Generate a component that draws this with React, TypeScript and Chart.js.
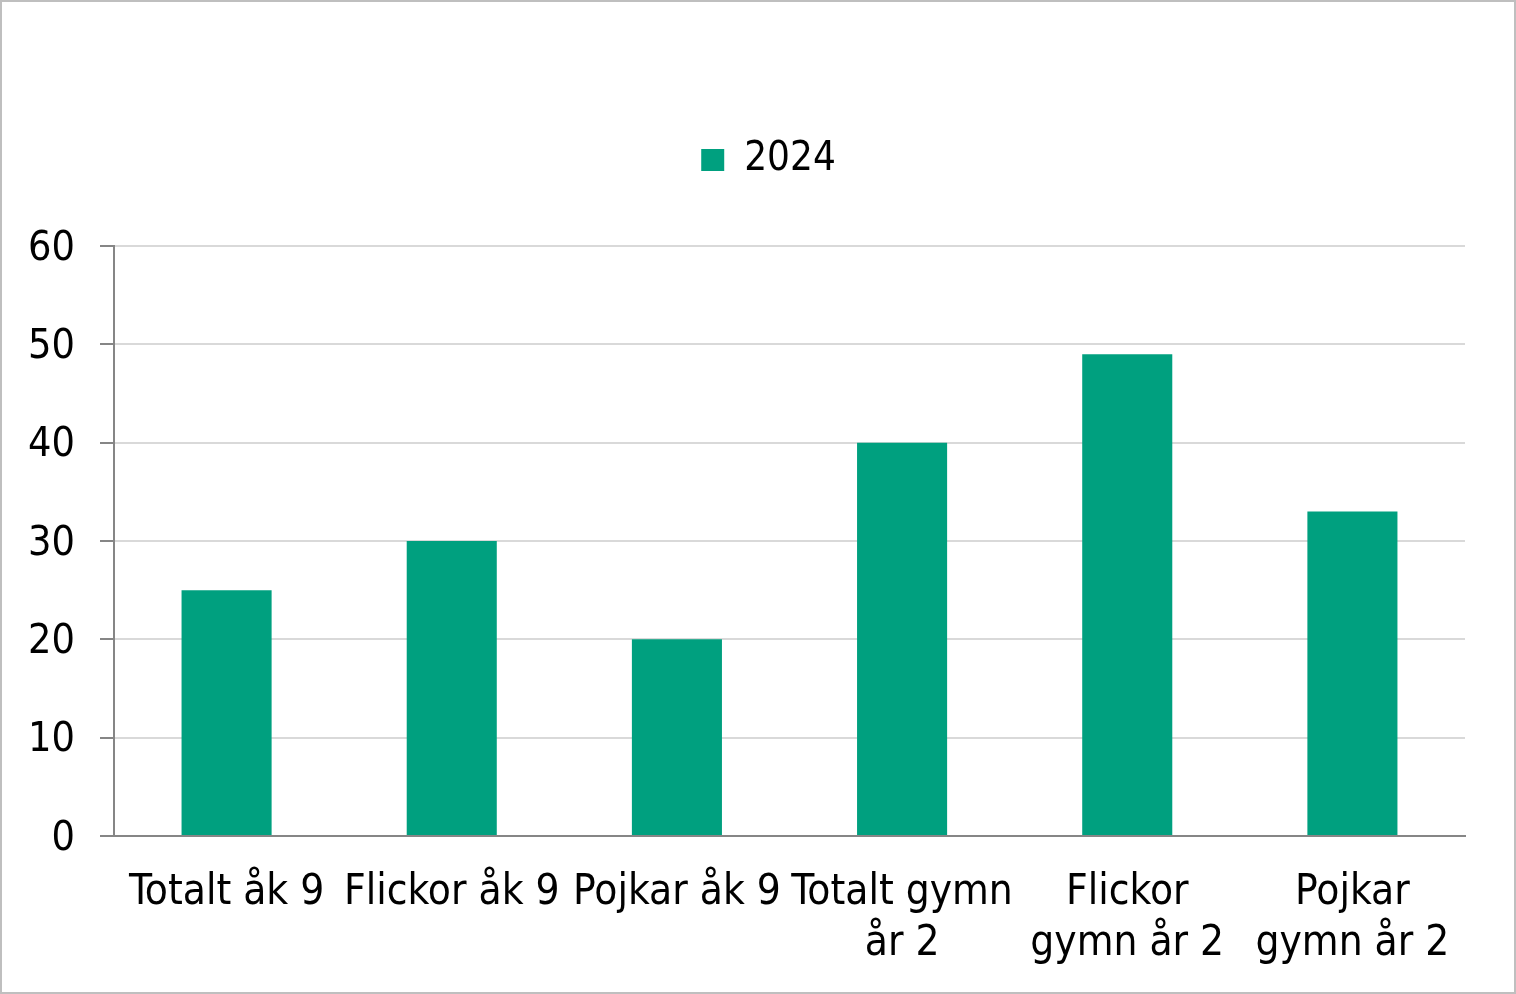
import React, { useEffect, useRef } from "react";
import Chart from "chart.js/auto";

const categories: string[][] = [
  ["Totalt åk 9"],
  ["Flickor åk 9"],
  ["Pojkar åk 9"],
  ["Totalt gymn", "år 2"],
  ["Flickor", "gymn år 2"],
  ["Pojkar", "gymn år 2"],
];
const seriesName = "2024";
const values2024 = [25, 30, 20, 40, 49, 33];

const FONT = "'DejaVu Sans Condensed', 'DejaVu Sans', sans-serif";
const GREEN = "#00a07f";
const AXIS = "#868686";

// more room under the legend, and legend moved a bit to the right
const legendTweak = {
  id: "legendTweak",
  beforeInit(chart: any) {
    const fit = chart.legend.fit;
    chart.legend.fit = function () {
      fit.bind(chart.legend)();
      this.height += 56;
    };
  },
  afterLayout(chart: any) {
    chart.legend.left += 35;
    chart.legend.right += 35;
  },
};

const App: React.FC = () => {
  const chartRef = useRef<HTMLCanvasElement>(null);

  useEffect(() => {
    if (!chartRef.current) return;
    const myChart = new Chart(chartRef.current, {
      type: "bar",
      data: {
        labels: categories,
        datasets: [
          {
            label: seriesName,
            data: values2024,
            backgroundColor: GREEN,
            borderWidth: 0,
            categoryPercentage: 1,
            barPercentage: 0.4,
          },
        ],
      },
      options: {
        animation: false,
        responsive: true,
        maintainAspectRatio: false,
        layout: { padding: { top: 128, right: 49, bottom: 0, left: 0 } },
        plugins: {
          legend: {
            position: "top",
            labels: {
              boxWidth: 23,
              boxHeight: 22,
              padding: 10,
              color: "#000",
              font: { family: FONT, size: 40 },
            },
          },
          tooltip: { enabled: false },
        },
        scales: {
          x: {
            afterFit: (scale: any) => {
              scale.height = 156;
            },
            grid: { display: false, drawTicks: false, tickLength: 0 },
            border: { color: AXIS, width: 2 },
            ticks: {
              color: "#000",
              padding: 32,
              maxRotation: 0,
              autoSkip: false,
              font: { family: FONT, size: 42, lineHeight: 1.2 },
            },
          },
          y: {
            min: 0,
            max: 60,
            afterFit: (scale: any) => {
              scale.width = 112;
            },
            grid: {
              color: "#d9d9d9",
              lineWidth: 2,
              tickColor: AXIS,
              tickLength: 14,
              tickWidth: 2,
            },
            border: { color: AXIS, width: 2 },
            ticks: {
              stepSize: 10,
              color: "#000",
              padding: 25,
              labelOffset: 3,
              font: { family: FONT, size: 41 },
            },
          },
        },
      },
      plugins: [legendTweak],
    });

    return () => {
      myChart.destroy();
    };
  }, []);

  return (
    <div
      style={{
        position: "absolute",
        left: 0,
        top: 0,
        width: 1516,
        height: 994,
        boxSizing: "border-box",
        border: "2px solid #bfbfbf",
        background: "#fff",
      }}
    >
      <div style={{ position: "relative", width: "100%", height: "100%" }}>
        <canvas ref={chartRef} />
      </div>
    </div>
  );
};

export default App;
